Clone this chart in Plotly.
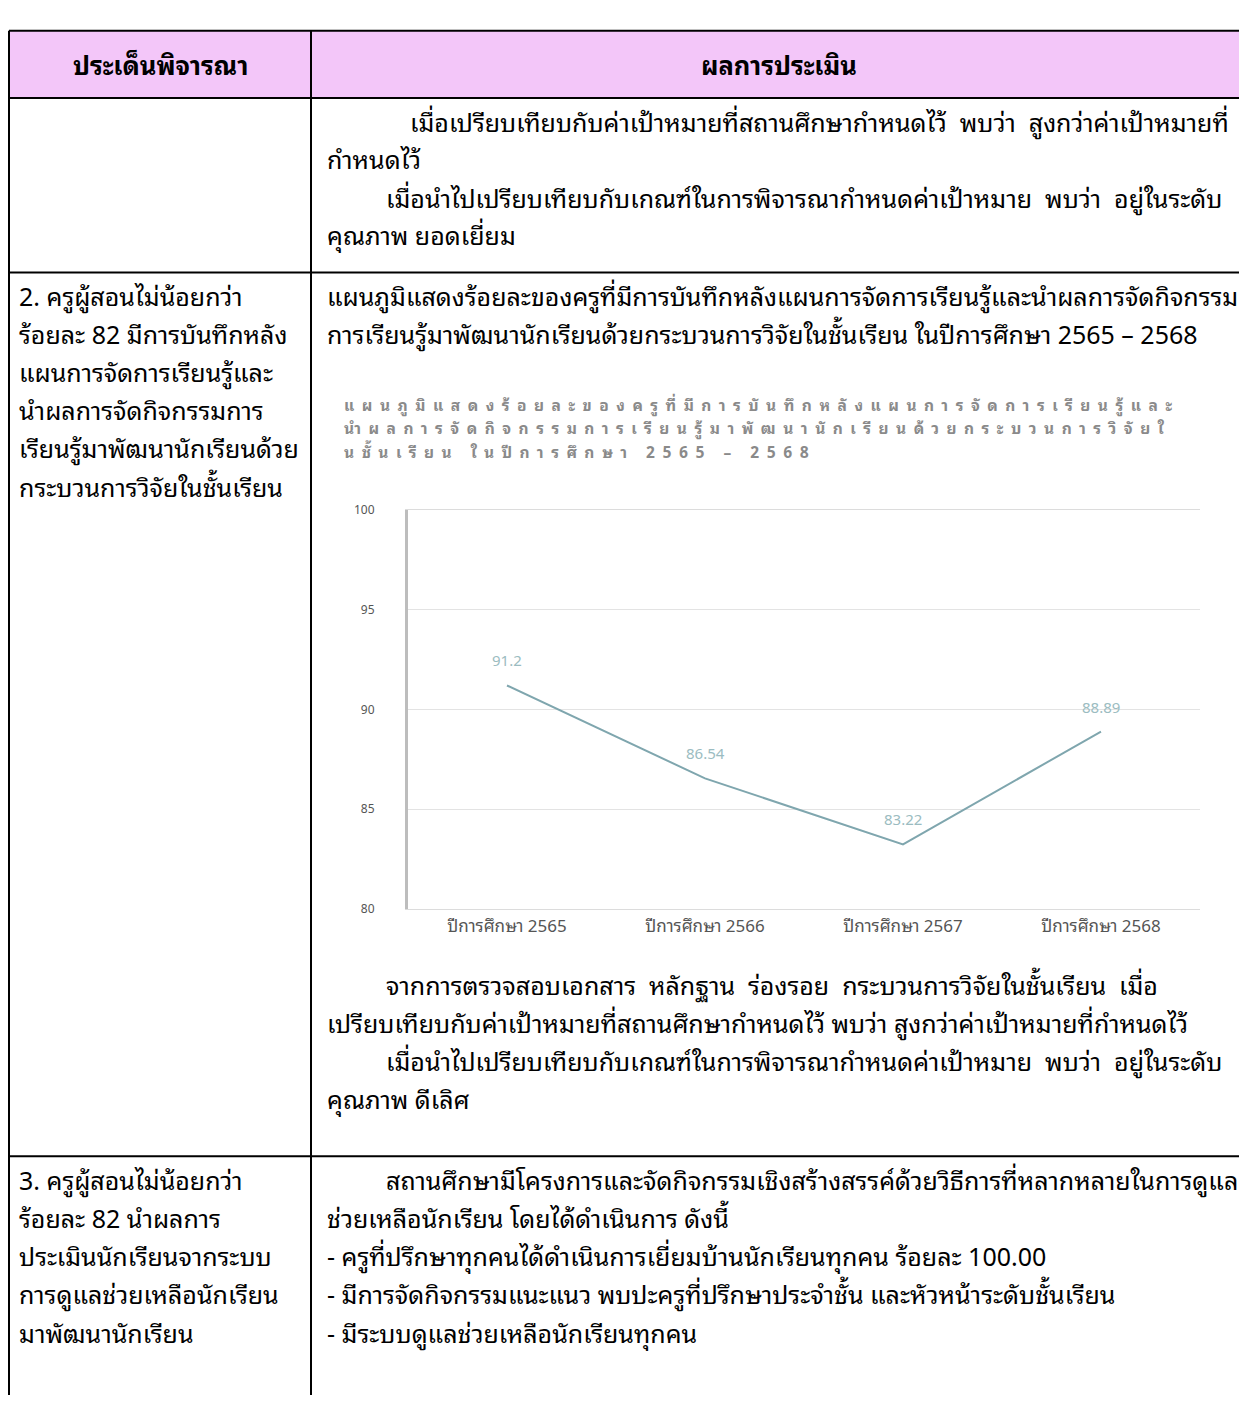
import plotly.graph_objects as go

# ---------------- data ----------------
categories = ["ปีการศึกษา 2565", "ปีการศึกษา 2566", "ปีการศึกษา 2567", "ปีการศึกษา 2568"]
values = [91.2, 86.54, 83.22, 88.89]
y_ticks = [80, 85, 90, 95, 100]

chart_title = ["แผนภูมิแสดงร้อยละของครูที่มีการบันทึกหลังแผนการจัดการเรียนรู้และ",
               "นำผลการจัดกิจกรรมการเรียนรู้มาพัฒนานักเรียนด้วยกระบวนการวิจัยใ",
               "นชั้นเรียน ในปีการศึกษา 2565 – 2568"]

header_left = "ประเด็นพิจารณา"
header_right = "ผลการประเมิน"

row1_right = ["เมื่อเปรียบเทียบกับค่าเป้าหมายที่สถานศึกษากำหนดไว้  พบว่า  สูงกว่าค่าเป้าหมายที่",
              "กำหนดไว้",
              "เมื่อนำไปเปรียบเทียบกับเกณฑ์ในการพิจารณากำหนดค่าเป้าหมาย  พบว่า  อยู่ในระดับ",
              "คุณภาพ ยอดเยี่ยม"]
row2_left = ["2. ครูผู้สอนไม่น้อยกว่า", "ร้อยละ 82 มีการบันทึกหลัง", "แผนการจัดการเรียนรู้และ",
             "นำผลการจัดกิจกรรมการ", "เรียนรู้มาพัฒนานักเรียนด้วย", "กระบวนการวิจัยในชั้นเรียน"]
row2_right_top = ["แผนภูมิแสดงร้อยละของครูที่มีการบันทึกหลังแผนการจัดการเรียนรู้และนำผลการจัดกิจกรรม",
                  "การเรียนรู้มาพัฒนานักเรียนด้วยกระบวนการวิจัยในชั้นเรียน ในปีการศึกษา 2565 – 2568"]
row2_right_bottom = ["จากการตรวจสอบเอกสาร  หลักฐาน  ร่องรอย  กระบวนการวิจัยในชั้นเรียน  เมื่อ",
                     "เปรียบเทียบกับค่าเป้าหมายที่สถานศึกษากำหนดไว้ พบว่า สูงกว่าค่าเป้าหมายที่กำหนดไว้",
                     "เมื่อนำไปเปรียบเทียบกับเกณฑ์ในการพิจารณากำหนดค่าเป้าหมาย  พบว่า  อยู่ในระดับ",
                     "คุณภาพ ดีเลิศ"]
row3_left = ["3. ครูผู้สอนไม่น้อยกว่า", "ร้อยละ 82 นำผลการ", "ประเมินนักเรียนจากระบบ",
             "การดูแลช่วยเหลือนักเรียน", "มาพัฒนานักเรียน"]
row3_right = ["สถานศึกษามีโครงการและจัดกิจกรรมเชิงสร้างสรรค์ด้วยวิธีการที่หลากหลายในการดูแล",
              "ช่วยเหลือนักเรียน โดยได้ดำเนินการ ดังนี้",
              "- ครูที่ปรึกษาทุกคนได้ดำเนินการเยี่ยมบ้านนักเรียนทุกคน ร้อยละ 100.00",
              "- มีการจัดกิจกรรมแนะแนว พบปะครูที่ปรึกษาประจำชั้น และหัวหน้าระดับชั้นเรียน",
              "- มีระบบดูแลช่วยเหลือนักเรียนทุกคน"]

# ---------------- page geometry ----------------
OFF = 8                     # default body margin of the html page
W, H = 1247 - OFF, 1403 - 2 * OFF
FONT = "Noto Sans Thai Looped, Loma, Garuda, Tahoma, Noto Sans Thai, Noto Sans, sans-serif"
TXT = 25


def px(x):
    return (x - OFF) / W


def py(y):
    return 1 - (y - OFF) / H


fig = go.Figure()

fig.add_trace(go.Scatter(
    x=categories, y=values, mode="lines",
    line=dict(color="#7FA6AE", width=2),
    cliponaxis=False, showlegend=False, hoverinfo="x+y",
))

shapes = []
border = dict(color="black", width=2)
shapes.append(dict(type="rect", xref="paper", yref="paper",
                   x0=px(9), x1=1.01, y0=py(88), y1=py(20),
                   fillcolor="#F3C6F9", line=dict(width=0), layer="below"))
for yy in [20, 88, 265, 1161]:
    shapes.append(dict(type="line", xref="paper", yref="paper",
                       x0=px(9), x1=1.01, y0=py(yy), y1=py(yy), line=border))
for xx in [9, 311]:
    shapes.append(dict(type="line", xref="paper", yref="paper",
                       x0=px(xx), x1=px(xx), y0=py(20), y1=-0.01, line=border))

annotations = []


def add_text(text, x, y, size=TXT, bold=False, anchor="left", color="black"):
    annotations.append(dict(text=f"<b>{text}</b>" if bold else text,
                            x=px(x), y=py(y), xref="paper", yref="paper",
                            xanchor=anchor, yanchor="middle", showarrow=False,
                            font=dict(size=size, color=color, family=FONT)))


add_text(header_left, 160, 53, size=25.5, bold=True, anchor="center")
add_text(header_right, 779, 53, size=25.5, bold=True, anchor="center")

for t, x, y in zip(row1_right, [408, 325, 384, 325], [111, 149, 188, 226]):
    add_text(t, x, y)
for t, y in zip(row2_left, [288, 326, 365, 403, 442, 481]):
    add_text(t, 17, y)
for t, y in zip(row2_right_top, [288, 326]):
    add_text(t, 325, y)
for t, x, y in zip(row2_right_bottom, [384, 325, 384, 325], [986, 1025, 1063, 1102]):
    add_text(t, x, y)
for t, y in zip(row3_left, [1184, 1223, 1261, 1300, 1339]):
    add_text(t, 17, y)
for t, x, y in zip(row3_right, [384, 325, 325, 325, 325], [1184, 1223, 1261, 1300, 1339]):
    add_text(t, x, y)

# chart title: three tight lines
for t, y in zip(chart_title, [399, 422.5, 446]):
    annotations.append(dict(text=f'<span style="letter-spacing:7.5px">{t}</span>',
                            x=px(343), y=py(y), xref="paper", yref="paper",
                            xanchor="left", yanchor="middle", showarrow=False, borderpad=0,
                            font=dict(size=15.5, color="#8A8A8A", family=FONT, weight="bold")))

# data labels above each point
for c, v in zip(categories, values):
    annotations.append(dict(text=f"{v:g}", x=c, y=v, xref="x", yref="y",
                            yshift=26, showarrow=False,
                            font=dict(size=15, color="#9BBCC1", family=FONT)))

fig.update_layout(
    width=W, height=H, autosize=False,
    margin=dict(l=0, r=0, t=0, b=0),
    paper_bgcolor="white", plot_bgcolor="white",
    shapes=shapes, annotations=annotations,
    xaxis=dict(domain=[px(408), px(1200)], range=[-0.5, 3.5], showgrid=False,
               zeroline=False, showline=True, mirror=True, linecolor="#DCDCDC",
               linewidth=1, ticks="", ticklabelstandoff=2,
               tickfont=dict(size=17, color="#555", family=FONT), fixedrange=True),
    yaxis=dict(domain=[py(910), py(506)], range=[80, 100], tickvals=y_ticks,
               showgrid=True, gridcolor="#E3E3E3", gridwidth=1, zeroline=False,
               showline=True, linecolor="#BDBDBD", linewidth=3,
               ticks="", ticklabelstandoff=28,
               tickfont=dict(size=12, color="#555", family=FONT), fixedrange=True),
)

fig.write_html("out.html")
